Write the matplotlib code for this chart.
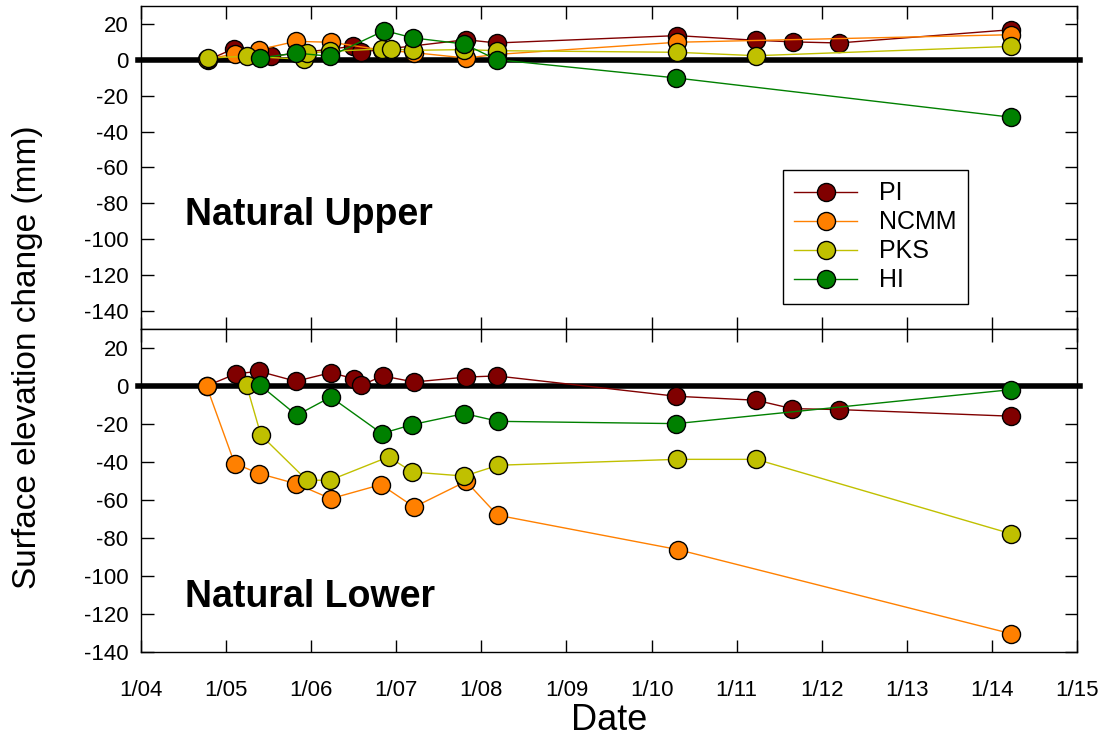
import numpy as np
import matplotlib.pyplot as plt

plt.rcParams['font.family'] = ['Liberation Sans', 'DejaVu Sans']
plt.rcParams['axes.unicode_minus'] = False

# ---- data (decimal year, elevation change in mm) ----
# Natural Upper
up_pi_x = [2004.79, 2005.09, 2005.53, 2006.49, 2006.59, 2007.82, 2008.18, 2010.30, 2011.23, 2011.66, 2012.20, 2014.23]
up_pi_y = [0.0, 6.2, 2.0, 7.5, 4.4, 11.2, 9.4, 13.5, 10.9, 10.0, 9.4, 16.8]
up_ncmm_x = [2004.77, 2005.10, 2005.39, 2005.82, 2006.23, 2006.83, 2007.21, 2007.82, 2008.18, 2010.30, 2014.23]
up_ncmm_y = [0.3, 3.3, 5.7, 10.3, 9.8, 5.5, 4.0, 1.0, 3.0, 9.8, 14.0]
up_pks_x = [2004.79, 2005.24, 2005.91, 2005.95, 2006.22, 2006.83, 2006.94, 2007.20, 2007.80, 2008.18, 2010.30, 2011.23, 2014.23]
up_pks_y = [1.0, 2.0, 0.3, 3.8, 4.7, 6.1, 6.1, 5.3, 5.7, 5.1, 4.2, 2.3, 7.5]
up_hi_x = [2005.40, 2005.82, 2006.22, 2006.86, 2007.20, 2007.80, 2008.18, 2010.29, 2014.23]
up_hi_y = [1.0, 3.8, 2.0, 16.3, 12.2, 8.8, 0.1, -10.1, -32.0]

# Natural Lower
lo_pi_x = [2004.77, 2005.12, 2005.39, 2005.82, 2006.23, 2006.50, 2006.59, 2006.84, 2007.21, 2007.82, 2008.18, 2010.29, 2011.23, 2011.65, 2012.20, 2014.23]
lo_pi_y = [0.0, 6.5, 7.7, 2.5, 7.0, 3.9, 0.4, 5.3, 2.1, 4.7, 5.3, -5.4, -7.5, -11.9, -12.4, -15.9]
lo_ncmm_x = [2004.77, 2005.10, 2005.39, 2005.82, 2006.23, 2006.82, 2007.21, 2007.82, 2008.19, 2010.31, 2014.22]
lo_ncmm_y = [0.0, -40.8, -46.1, -51.4, -59.3, -51.9, -63.7, -50.2, -68.0, -86.1, -130.3]
lo_pks_x = [2005.24, 2005.41, 2005.95, 2006.22, 2006.91, 2007.19, 2007.80, 2008.20, 2010.30, 2011.23, 2014.22]
lo_pks_y = [0.4, -25.9, -49.6, -49.6, -37.3, -45.3, -47.4, -41.7, -38.6, -38.6, -77.7]
lo_hi_x = [2005.40, 2005.83, 2006.23, 2006.83, 2007.19, 2007.80, 2008.20, 2010.29, 2014.23]
lo_hi_y = [0.4, -15.4, -5.8, -25.0, -20.3, -14.5, -18.6, -19.8, -1.9]

names = ['PI', 'NCMM', 'PKS', 'HI']
colors = ['#800000', '#ff8000', '#c0c000', '#008000']
years = list(range(2004, 2016))
year_labels = ['1/%02d' % (y % 100) for y in years]

upper = [(up_pi_x, up_pi_y), (up_ncmm_x, up_ncmm_y), (up_pks_x, up_pks_y), (up_hi_x, up_hi_y)]
lower = [(lo_pi_x, lo_pi_y), (lo_ncmm_x, lo_ncmm_y), (lo_pks_x, lo_pks_y), (lo_hi_x, lo_hi_y)]

W, H = 1101, 739
fig = plt.figure(figsize=(W / 100, H / 100), dpi=100)
left, right = 141 / W, 1077 / W
ax1 = fig.add_axes([left, 1 - 329 / H, right - left, 323 / H])
ax2 = fig.add_axes([left, 1 - 652 / H, right - left, 323 / H])


def draw(ax, series, ylim):
    # thick zero line
    ax.plot([2003.96, 2015.04], [0, 0], color='black', lw=4, zorder=2, clip_on=False)
    for (x, y), name, c in zip(series, names, colors):
        ax.plot(x, y, '-o', color=c, lw=1, ms=13, mfc=c, mec='black', mew=1,
                label=name, zorder=3)
    ax.set_xlim(2004, 2015)
    ax.set_ylim(*ylim)
    ax.set_yticks(np.arange(-140, 21, 20))
    ax.set_xticks(years)
    ax.tick_params(direction='in', length=9, width=1, top=True, right=True,
                   labelsize=16)
    ax.tick_params(axis='y', pad=9)
    ax.tick_params(axis='x', pad=20)
    for s in ax.spines.values():
        s.set_linewidth(1)


draw(ax1, upper, (-150, 30))
draw(ax2, lower, (-140, 30))
ax1.set_xticklabels([])
ax2.set_xticklabels(year_labels)

ax1.text(0.047, 0.353, 'Natural Upper', transform=ax1.transAxes,
         fontsize=27, fontweight='bold', va='center')
ax2.text(0.047, 0.170, 'Natural Lower', transform=ax2.transAxes,
         fontsize=27, fontweight='bold', va='center')

leg = ax1.legend(loc='upper left', bbox_to_anchor=(0.686, 0.492), fontsize=18,
                 handlelength=2.5, handletextpad=0.9, fancybox=False,
                 edgecolor='black', framealpha=1, borderpad=0.45,
                 labelspacing=0.2, borderaxespad=0)
leg.get_frame().set_linewidth(1)

fig.text(28 / W, 1 - 357 / H, 'Surface elevation change (mm)', rotation=90,
         fontsize=24, ha='center', va='center')
fig.text(609 / W, 1 - 720 / H, 'Date', fontsize=26, ha='center', va='center')

fig.savefig('out.png', dpi=100)
